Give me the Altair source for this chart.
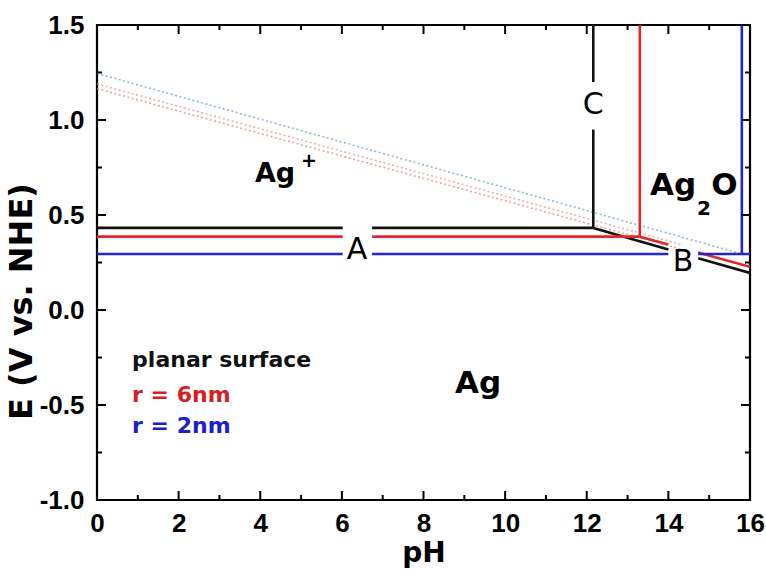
import altair as alt
import pandas as pd

# ---------------- data ----------------
# phase boundary lines (pH, E) ; segments separated where labels sit
planar_seg = ["h1", "h1", "h2", "h2", "v1", "v1", "v2", "v2", "s1", "s1", "s2", "s2"]
planar_ph = [0, 6.02, 6.74, 12.16, 12.16, 12.16, 12.16, 12.16, 12.16, 14.0, 14.73, 16.0]
planar_e = [0.432, 0.432, 0.432, 0.432, 0.432, 0.95, 1.2, 1.5, 0.432, 0.318, 0.273, 0.195]

r6_seg = ["h1", "h1", "h2", "h2", "v1", "v1", "s1", "s1", "s2", "s2"]
r6_ph = [0, 6.02, 6.74, 13.3, 13.3, 13.3, 13.3, 14.0, 14.73, 16.0]
r6_e = [0.386, 0.386, 0.386, 0.386, 0.386, 1.5, 0.386, 0.345, 0.302, 0.227]

r2_seg = ["h1", "h1", "h2", "h2", "h3", "h3", "v1", "v1"]
r2_ph = [0, 6.02, 6.74, 14.0, 14.73, 16.0, 15.8, 15.8]
r2_e = [0.295, 0.295, 0.295, 0.295, 0.295, 0.295, 0.295, 1.5]

# metastable (dotted) extensions
dot_series = ["r2", "r2", "planar", "planar", "r6", "r6"]
dot_ph = [0, 15.8, 0, 14.3, 0, 14.3]
dot_e = [1.245, 0.295, 1.19, 0.346, 1.165, 0.321]

# axis ticks
x_major = [0, 2, 4, 6, 8, 10, 12, 14, 16]
x_minor = [1, 3, 5, 7, 9, 11, 13, 15]
y_major = [-1.0, -0.5, 0.0, 0.5, 1.0, 1.5]
y_minor = [-0.75, -0.25, 0.25, 0.75, 1.25]

# labels
line_labels = ["A", "B", "C"]
line_label_ph = [6.37, 14.36, 12.16]
line_label_e = [0.316, 0.253, 1.079]

legend_text = ["planar surface", "r = 6nm", "r = 2nm"]
legend_color = ["#111111", "#d42020", "#2020c8"]
legend_ph = [0.86, 0.86, 0.86]
legend_e = [-0.30, -0.484, -0.647]

# phase region names
phase_text = ["Ag", "+", "Ag", "2", "O", "Ag"]
phase_ph = [3.87, 5.0, 13.55, 14.7, 15.05, 8.77]
phase_e = [0.674, 0.755, 0.605, 0.50, 0.605, -0.437]
phase_size = [27, 19, 31, 20, 31, 31]

# ---------------- chart ----------------
W, H = 653, 475
BLACK, RED, BLUE = "#111111", "#e3262a", "#2424d4"
FONT = "DejaVu Sans"
TICKFONT = "Liberation Sans"

xs = alt.Scale(domain=[0, 16], nice=False, zero=False)
ys = alt.Scale(domain=[-1.0, 1.5], nice=False, zero=False)

x_axis = alt.Axis(values=x_major, format="d", ticks=False, domain=False, grid=False,
                  labelFlush=False, labelOverlap=False,
                  labelFont=TICKFONT, labelFontSize=26, labelFontWeight="bold", labelColor="black",
                  labelPadding=10, title="pH", titleFont=FONT, titleFontSize=28,
                  titleFontWeight="bold", titleColor="black", titleBaseline="middle",
                  titleY=53)
y_axis = alt.Axis(values=y_major, ticks=False, domain=False, grid=False,
                  labelFlush=False, labelOverlap=False,
                  labelExpr="replace(format(datum.value, '.1f'), '\u2212', '-')",
                  labelFont=TICKFONT, labelFontSize=26, labelFontWeight="bold", labelColor="black",
                  labelPadding=13, title="E (V vs. NHE)", titleFont=FONT, titleFontSize=32,
                  titleFontWeight="bold", titleColor="black", titleBaseline="middle",
                  titleAlign="center", titleX=-76, titleY=276, titleAngle=-90)


def seg_df(ph, e, seg):
    return pd.DataFrame({"pH": ph, "E": e, "seg": seg, "order": list(range(len(ph)))})


def boundary(df, color):
    return alt.Chart(df).mark_line(color=color, strokeWidth=2.6, clip=True).encode(
        x=alt.X("pH:Q", scale=xs, axis=x_axis),
        y=alt.Y("E:Q", scale=ys, axis=y_axis),
        detail="seg:N",
        order="order:Q",
    )


dots_df = pd.DataFrame({"pH": dot_ph, "E": dot_e, "series": dot_series})
dots = alt.Chart(dots_df).mark_line(strokeWidth=1.6, strokeDash=[2, 2.5], opacity=0.75).encode(
    x=alt.X("pH:Q", scale=xs),
    y=alt.Y("E:Q", scale=ys),
    color=alt.Color("series:N", scale=alt.Scale(domain=["r2", "planar", "r6"],
                                                range=["#6f9cc4", "#d49a9a", "#e8826e"]),
                    legend=None),
    detail="series:N",
)

planar = boundary(seg_df(planar_ph, planar_e, planar_seg), BLACK)
r6 = boundary(seg_df(r6_ph, r6_e, r6_seg), RED)
r2 = boundary(seg_df(r2_ph, r2_e, r2_seg), BLUE)

# inward ticks on all four sides
xmaj = pd.DataFrame({"v": x_major})
xmin = pd.DataFrame({"v": x_minor})
ymaj = pd.DataFrame({"v": y_major})
ymin = pd.DataFrame({"v": y_minor})


def xticks(df, length):
    b = alt.Chart(df).mark_rule(color="black", strokeWidth=2)
    bottom = b.encode(x=alt.X("v:Q", scale=xs), y=alt.value(H), y2=alt.value(H - length))
    top = b.encode(x=alt.X("v:Q", scale=xs), y=alt.value(0), y2=alt.value(length))
    return bottom + top


def yticks(df, length):
    b = alt.Chart(df).mark_rule(color="black", strokeWidth=2)
    left = b.encode(y=alt.Y("v:Q", scale=ys), x=alt.value(0), x2=alt.value(length))
    right = b.encode(y=alt.Y("v:Q", scale=ys), x=alt.value(W), x2=alt.value(W - length))
    return left + right


ticks = xticks(xmaj, 9) + xticks(xmin, 5) + yticks(ymaj, 9) + yticks(ymin, 5)

lbl_df = pd.DataFrame({"t": line_labels, "pH": line_label_ph, "E": line_label_e})
letters = alt.Chart(lbl_df).mark_text(font=FONT, fontSize=30, color="black",
                                      align="center", baseline="middle").encode(
    x=alt.X("pH:Q", scale=xs), y=alt.Y("E:Q", scale=ys), text="t:N")

leg_df = pd.DataFrame({"t": legend_text, "pH": legend_ph, "E": legend_e, "c": legend_color})
legend = alt.Chart(leg_df).mark_text(font=FONT, fontSize=22, fontWeight="bold",
                                     align="left", baseline="alphabetic").encode(
    x=alt.X("pH:Q", scale=xs), y=alt.Y("E:Q", scale=ys), text="t:N",
    color=alt.Color("c:N", scale=None))

ph_df = pd.DataFrame({"t": phase_text, "pH": phase_ph, "E": phase_e, "s": phase_size})
phases = alt.Chart(ph_df).mark_text(font=FONT, fontWeight="bold", color="black",
                                    align="left", baseline="alphabetic").encode(
    x=alt.X("pH:Q", scale=xs), y=alt.Y("E:Q", scale=ys), text="t:N",
    size=alt.Size("s:Q", scale=None, legend=None))

chart = alt.layer(dots, planar, r6, r2, ticks, letters, legend, phases).properties(
    width=W, height=H,
    autosize=alt.AutoSizeParams(type="none"),
    padding={"left": 97, "top": 25, "right": 16, "bottom": 77},
    background="white",
).configure_view(stroke="black", strokeWidth=2.2)

chart.save("out.html", embed_options={"renderer": "svg", "actions": False})
